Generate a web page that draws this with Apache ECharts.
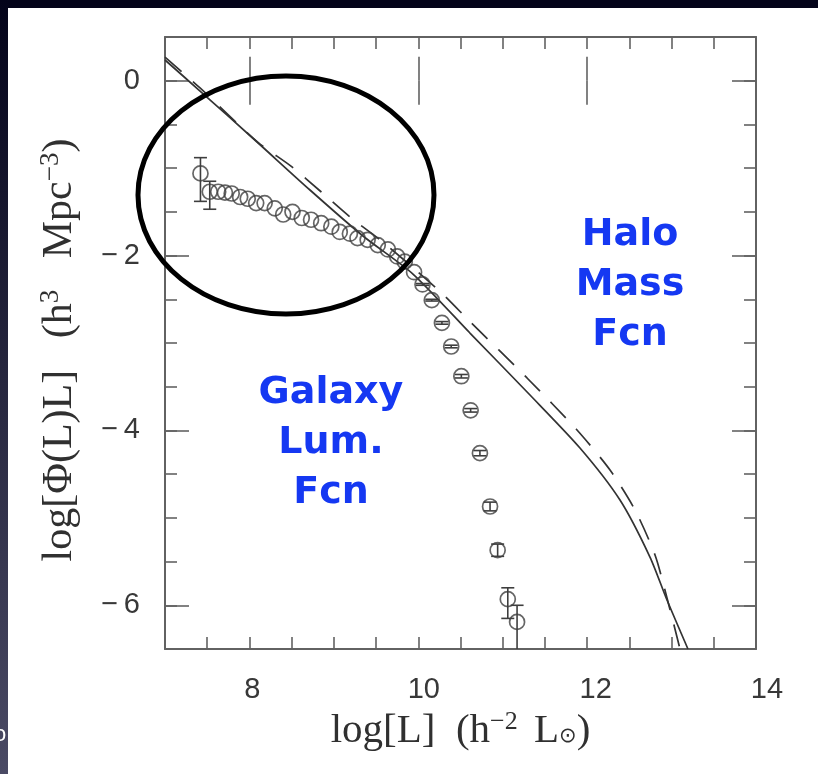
<!DOCTYPE html>
<html>
<head>
<meta charset="utf-8">
<script src="https://cdn.jsdelivr.net/npm/echarts@6/dist/echarts.min.js"></script>
<style>
  html, body { margin: 0; padding: 0; background: #ffffff; }
  #chart { width: 818px; height: 774px; }
</style>
</head>
<body>
<div id="chart"></div>
<script>
// Galaxy luminosity function: log L (h^-2 Lsun) and log[Phi(L) L]
const lumLogL = [7.42, 7.53, 7.63, 7.71, 7.79, 7.89, 7.98, 8.08, 8.18, 8.30,
                 8.40, 8.51, 8.62, 8.73, 8.85, 8.97, 9.07, 9.19, 9.28, 9.40,
                 9.52, 9.64, 9.75, 9.84, 9.95, 10.05, 10.16, 10.28, 10.39, 10.51,
                 10.62, 10.73, 10.85, 10.94, 11.06, 11.17];
const lumLogPhi = [-1.06, -1.27, -1.27, -1.28, -1.29, -1.33, -1.35, -1.40, -1.40, -1.46,
                   -1.53, -1.50, -1.57, -1.59, -1.63, -1.67, -1.73, -1.75, -1.80, -1.82,
                   -1.88, -1.93, -2.01, -2.07, -2.19, -2.33, -2.51, -2.77, -3.04, -3.38,
                   -3.77, -4.26, -4.87, -5.37, -5.93, -6.19];
// asymmetric error bars (dex)
const lumErrUp = [0.18, 0.12, 0, 0, 0, 0, 0, 0, 0, 0,
                  0, 0, 0, 0, 0, 0, 0, 0, 0, 0,
                  0, 0, 0, 0, 0, 0.01, 0.01, 0.015, 0.015, 0.02,
                  0.02, 0.03, 0.05, 0.07, 0.13, 0.19];
const lumErrDown = [0.32, 0.20, 0, 0, 0, 0, 0, 0, 0, 0,
                    0, 0, 0, 0, 0, 0, 0, 0, 0, 0,
                    0, 0, 0, 0, 0, 0.01, 0.01, 0.015, 0.015, 0.02,
                    0.02, 0.03, 0.05, 0.07, 0.22, 0.45];

// Halo mass function, expressed as abundance vs. log L (solid and dashed models)
const haloSolidX = [7.00, 7.415, 8.09, 8.717, 9.345, 9.937, 10.612, 11.323, 11.915, 12.389, 12.744, 12.946, 13.194];
const haloSolidY = [0.237, -0.118, -0.701, -1.25, -1.776, -2.211, -2.886, -3.595, -4.201, -4.796, -5.448, -5.94, -6.50];
const haloDashX = [7.00, 7.415, 8.101, 8.492, 8.848, 9.203, 9.582, 10.257, 10.612, 11.288, 11.88, 12.271, 12.567, 12.804, 12.946, 13.10];
const haloDashY = [0.271, -0.083, -0.705, -0.977, -1.27, -1.568, -1.846, -2.41, -2.755, -3.40, -3.995, -4.453, -4.91, -5.425, -5.917, -6.50];

// highlighted faint-end region: centre (log L, log Phi) and semi-axes
const faintEndRing = [8.433, -1.307, 1.753, 1.361];

const xTickLabels = [8, 10, 12, 14];
const yTickLabels = [0, -2, -4, -6];
const xMajorTicks = [8, 10, 12];
const yMajorTicks = [-6, -4, -2, 0];

const annotationHalo = ['Halo', 'Mass', 'Fcn'];
const annotationGalaxy = ['Galaxy', 'Lum.', 'Fcn'];

const frameColor = '#626262';
const inkColor = '#3e3e3e';
const blue = '#1538f2';

const chart = echarts.init(document.getElementById('chart'), null, { renderer: 'canvas' });

function pairs(xs, ys) { return xs.map((x, i) => [x, ys[i]]); }
const minus = v => (v < 0 ? '\u2212\u2009' + Math.abs(v) : String(v));

// x tick numbers sit a little right of their ticks, drifting further right along the axis
const xLabelNudge = v => Math.round(2 * (3 + (v - 8) * 1.35));
const xLabelRich = {};
xTickLabels.forEach(v => {
  xLabelRich['t' + v] = { fontSize: 29, fontFamily: 'Liberation Sans', color: '#383838',
                          padding: [0, 0, 0, xLabelNudge(v)] };
});

function shortAxis(dim, position, withLabels) {
  const isX = dim === 'x';
  const ax = {
    type: 'value',
    position: position,
    min: isX ? 7 : -6.5,
    max: isX ? 14 : 0.5,
    interval: 0.5,
    axisLine: { show: true, onZero: false, lineStyle: { color: frameColor, width: 2 } },
    axisTick: { show: true, inside: true, length: 12, lineStyle: { color: frameColor, width: 1.6 } },
    splitLine: { show: false },
    axisLabel: { show: false }
  };
  if (withLabels) {
    ax.axisLabel = {
      show: true,
      customValues: isX ? xTickLabels : yTickLabels,
      formatter: isX ? (v => '{t' + v + '|' + v + '}') : minus,
      margin: isX ? 26 : 25,
      fontSize: 29,
      fontFamily: 'Liberation Sans',
      color: '#383838',
      rich: isX ? xLabelRich : undefined
    };
  }
  return ax;
}
function longAxis(dim, position) {
  const isX = dim === 'x';
  return {
    type: 'value',
    position: position,
    min: isX ? 7 : -6.5,
    max: isX ? 14 : 0.5,
    axisLine: { show: false },
    axisTick: { show: true, inside: true, length: 24, customValues: isX ? xMajorTicks : yMajorTicks,
                lineStyle: { color: frameColor, width: 1.6 } },
    splitLine: { show: false },
    axisLabel: { show: false }
  };
}

const titleFont = 'Liberation Serif';
const titleColor = '#303030';

const xMain = shortAxis('x', 'bottom', true);
xMain.name = 'log[L]  (h{sup|\u22122} L{sub|\u2299})';
xMain.nameLocation = 'middle';
xMain.nameGap = 60;
xMain.nameTextStyle = {
  fontFamily: titleFont, fontSize: 41, color: titleColor,
  rich: {
    sup: { fontFamily: titleFont, fontSize: 26, color: titleColor, padding: [0, 6, 18, 0] },
    sub: { fontFamily: 'DejaVu Sans', fontSize: 21, color: titleColor, padding: [12, 0, 0, 0] }
  }
};

const yMain = shortAxis('y', 'left', true);
yMain.name = 'log[\u03A6(L)L]   (h{sup|3}   Mpc{sup|\u22123})';
yMain.nameLocation = 'middle';
yMain.nameRotate = 90;
yMain.nameGap = 83;
yMain.nameTextStyle = {
  fontFamily: titleFont, fontSize: 42, color: titleColor,
  padding: [0, 14, 0, 0],
  rich: {
    sup: { fontFamily: titleFont, fontSize: 27, color: titleColor, padding: [0, 0, 18, 0] }
  }
};

const errorBarSeries = {
  type: 'custom',
  name: 'errors',
  xAxisIndex: 0, yAxisIndex: 0,
  clip: true,
  silent: true,
  data: lumLogL.map((x, i) => [x, lumLogPhi[i], lumErrUp[i], lumErrDown[i]]),
  renderItem: function (params, api) {
    const x = api.value(0), y = api.value(1), up = api.value(2), dn = api.value(3);
    if (!up && !dn) return null;
    const top = api.coord([x, y + up]);
    const bot = api.coord([x, y - dn]);
    const half = 6.5;
    const st = { stroke: inkColor, lineWidth: 1.6, fill: null };
    return {
      type: 'group',
      children: [
        { type: 'line', shape: { x1: top[0], y1: top[1], x2: bot[0], y2: bot[1] }, style: st },
        { type: 'line', shape: { x1: top[0] - half, y1: top[1], x2: top[0] + half, y2: top[1] }, style: st },
        { type: 'line', shape: { x1: bot[0] - half, y1: bot[1], x2: bot[0] + half, y2: bot[1] }, style: st }
      ]
    };
  },
  z: 3
};

const ringSeries = {
  type: 'custom',
  name: 'faint end',
  xAxisIndex: 0, yAxisIndex: 0,
  clip: false,
  silent: true,
  data: [faintEndRing],
  renderItem: function (params, api) {
    const c = api.coord([api.value(0), api.value(1)]);
    const s = api.size([api.value(2), api.value(3)]);
    return {
      type: 'ellipse',
      shape: { cx: c[0], cy: c[1], rx: s[0], ry: s[1] },
      style: { fill: null, stroke: '#000000', lineWidth: 5 }
    };
  },
  z: 6
};

const annotationStyle = (lines) => ({
  text: lines.join('\n'), fill: blue, font: 'bold 38px "DejaVu Sans"',
  lineHeight: 50, align: 'center', verticalAlign: 'middle',
  textAlign: 'center', textVerticalAlign: 'middle'
});

const option = {
  backgroundColor: '#ffffff',
  animation: false,
  grid: { left: 165, top: 37, width: 591, height: 612, containLabel: false },
  xAxis: [xMain, longAxis('x', 'bottom'), shortAxis('x', 'top', false), longAxis('x', 'top')],
  yAxis: [yMain, longAxis('y', 'left'), shortAxis('y', 'right', false), longAxis('y', 'right')],
  series: [
    {
      type: 'line', name: 'halo (solid)', xAxisIndex: 0, yAxisIndex: 0,
      data: pairs(haloSolidX, haloSolidY), smooth: 0.25, showSymbol: false, silent: true,
      lineStyle: { color: '#333333', width: 1.7 }, z: 2
    },
    {
      type: 'line', name: 'halo (dashed)', xAxisIndex: 0, yAxisIndex: 0,
      data: pairs(haloDashX, haloDashY), smooth: 0.25, showSymbol: false, silent: true,
      lineStyle: { color: '#333333', width: 1.7, type: [22, 15] }, z: 2
    },
    errorBarSeries,
    {
      type: 'scatter', name: 'galaxies', xAxisIndex: 0, yAxisIndex: 0,
      data: pairs(lumLogL, lumLogPhi), symbol: 'circle', symbolSize: 15, silent: true,
      itemStyle: { color: 'rgba(255,255,255,0)', borderColor: inkColor, borderWidth: 1.7 }, z: 4
    },
    ringSeries
  ],
  graphic: [
    // slide frame behind the figure
    { type: 'rect', x: 0, y: 0, shape: { width: 818, height: 8 }, style: { fill: '#04041a' }, silent: true },
    {
      type: 'rect', x: 0, y: 0, shape: { width: 8, height: 774 }, silent: true,
      style: { fill: new echarts.graphic.LinearGradient(0, 0, 0, 1, [
        { offset: 0, color: '#04041a' }, { offset: 1, color: '#4a4a64' }]) }
    },
    { type: 'text', x: -6, y: 724, silent: true,
      style: { text: 'o', fill: '#ffffff', font: '22px "Liberation Sans"' } },
    { type: 'text', x: 630, y: 285, silent: true, style: annotationStyle(annotationHalo) },
    { type: 'text', x: 331, y: 443, silent: true, style: annotationStyle(annotationGalaxy) }
  ]
};

chart.setOption(option);
</script>
</body>
</html>
